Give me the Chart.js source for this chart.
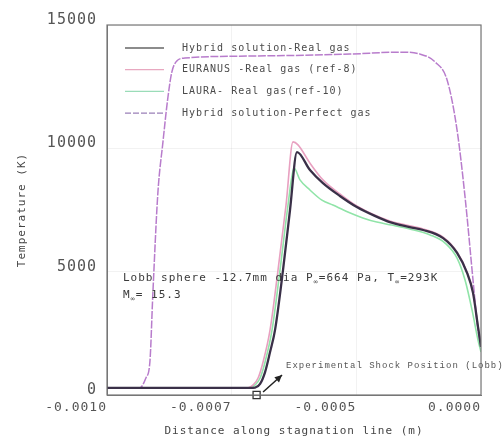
<!DOCTYPE html>
<html>
<head>
<meta charset="utf-8">
<script src="https://cdn.jsdelivr.net/npm/chart.js@4.4.1/dist/chart.umd.min.js"></script>
<style>
  html, body { margin: 0; padding: 0; background: #fff; }
  #wrap { width: 502px; height: 442px; }
</style>
</head>
<body>
<div id="wrap"><canvas id="tempChart"></canvas></div>
<script>
// x in metres along stagnation line, y temperature in K
var hybridRealX = [-0.001, -0.000713, -0.000703, -0.000693, -0.000683, -0.000673, -0.000663, -0.000647, -0.000633, -0.000619, -0.000593, -0.000567, -0.000533, -0.000499, -0.000463, -0.000433, -0.000393, -0.000366, -0.000326, -0.000298, -0.000278, -0.000266, -0.000256, -0.00025];
var hybridRealY = [290, 290, 300, 450, 930, 1740, 2640, 5070, 7500, 9850, 9120, 8590, 8070, 7620, 7260, 7010, 6810, 6690, 6360, 5760, 4950, 4140, 2760, 1950];

var euranusX = [-0.001, -0.000717, -0.000707, -0.000697, -0.000687, -0.000673, -0.000657, -0.000641, -0.000627, -0.000617, -0.000593, -0.000567, -0.000533, -0.000499, -0.000433, -0.000366, -0.000326, -0.000298, -0.000278, -0.000266, -0.000256, -0.00025];
var euranusY = [290, 290, 410, 690, 1340, 2640, 5070, 7700, 10260, 10140, 9400, 8720, 8150, 7660, 7050, 6730, 6400, 5800, 4990, 4180, 2800, 1990];

var lauraX = [-0.001, -0.000713, -0.000703, -0.000693, -0.000683, -0.000669, -0.000653, -0.000637, -0.000625, -0.000613, -0.000593, -0.000569, -0.000547, -0.000517, -0.000487, -0.000459, -0.000429, -0.000393, -0.000352, -0.000322, -0.000298, -0.000282, -0.000268, -0.000256, -0.00025];
var lauraY = [290, 290, 410, 690, 1340, 2640, 5070, 7700, 9200, 8720, 8310, 7900, 7700, 7420, 7180, 7010, 6890, 6730, 6490, 6160, 5550, 4660, 3450, 2230, 1740];

var perfectX = [-0.001, -0.000934, -0.000922, -0.000914, -0.000908, -0.000898, -0.000888, -0.000878, -0.00087, -0.00086, -0.000844, -0.000713, -0.000513, -0.000413, -0.000372, -0.000342, -0.000318, -0.000298, -0.000282, -0.000266, -0.000256, -0.00025];
var perfectY = [290, 293, 690, 1340, 4130, 8190, 10220, 12040, 13090, 13540, 13660, 13740, 13820, 13900, 13820, 13500, 12770, 10740, 8030, 4660, 2630, 1950];

var seriesNames = ['Hybrid solution-Real gas', 'EURANUS -Real gas (ref-8)', 'LAURA- Real gas(ref-10)', 'Hybrid solution-Perfect gas'];
var seriesColors = ['#3a3048', '#e8a0c0', '#90e4a8', '#b87ccc'];
var legendColors = ['#666666', '#e8a8c0', '#9adcb8', '#9a80b8'];

var xTickVals = [-0.001, -0.00075, -0.0005, -0.00025];
var xTickText = ['-0.0010', '-0.0007', '-0.0005', '0.0000'];
var yTickVals = [0, 5000, 10000, 15000];

var shockMarker = [{x: -0.0007, y: 0}];
var arrowFrom = {x: -0.000687, y: 120};
var arrowTo = {x: -0.000649, y: 810};

function makePoints(xs, ys){
  var list = [];
  for(var i=0;i<xs.length;i++){
    list.push({x: xs[i], y: ys[i]});
  }
  return list;
}

// canvas letter spacing, the original text is spread out
var spacingPlugin = {
  id: 'spacing',
  beforeUpdate: function(chart){ chart.ctx.letterSpacing = '1px'; },
  beforeDraw: function(chart){ chart.ctx.letterSpacing = '1px'; }
};

// box frame, legend inside the plot, notes and arrow
var decorPlugin = {
  id: 'decor',
  afterDatasetsDraw: function(chart){
    var ctx = chart.ctx;
    var a = chart.chartArea;
    var xs = chart.scales.x, ys = chart.scales.y;
    ctx.save();
    ctx.strokeStyle = '#777';
    ctx.lineWidth = 1.2;
    ctx.strokeRect(a.left, a.top, a.right - a.left, a.bottom - a.top);

    // legend
    ctx.font = '10px "DejaVu Sans Mono"';
    ctx.fillStyle = '#4a4a4a';
    ctx.textBaseline = 'middle';
    for(var i=0;i<seriesNames.length;i++){
      var ly = 48 + i * 21.7;
      ctx.beginPath();
      ctx.strokeStyle = legendColors[i];
      ctx.lineWidth = 1.3;
      if(i == 3) ctx.setLineDash([6, 2]); else ctx.setLineDash([]);
      ctx.moveTo(125, ly);
      ctx.lineTo(164, ly);
      ctx.stroke();
      ctx.fillText(seriesNames[i], 182, ly);
    }
    ctx.setLineDash([]);

    // conditions note
    ctx.fillStyle = '#3a3a3a';
    var tx = 123, ty = 278;
    var parts = [['Lobb sphere -12.7mm dia P', 0], ['\u221e', 1], ['=664 Pa, T', 0], ['\u221e', 1], ['=293K', 0]];
    for(var j=0;j<parts.length;j++){
      if(parts[j][1]){
        ctx.font = '7px "DejaVu Sans Mono"';
        ctx.fillText(parts[j][0], tx, ty + 4);
      }else{
        ctx.font = '11px "DejaVu Sans Mono"';
        ctx.fillText(parts[j][0], tx, ty);
      }
      tx += ctx.measureText(parts[j][0]).width;
    }
    tx = 123; ty = 295;
    ctx.font = '11px "DejaVu Sans Mono"';
    ctx.fillText('M', tx, ty);
    tx += ctx.measureText('M').width;
    ctx.font = '7px "DejaVu Sans Mono"';
    ctx.fillText('\u221e', tx, ty + 4);
    tx += ctx.measureText('\u221e').width;
    ctx.font = '11px "DejaVu Sans Mono"';
    ctx.fillText('= 15.3', tx, ty);

    // experimental shock label + arrow
    ctx.font = '9px "Liberation Mono"';
    ctx.fillStyle = '#555';
    ctx.fillText('Experimental Shock Position (Lobb)', 286, 366);
    var x0 = xs.getPixelForValue(arrowFrom.x), y0 = ys.getPixelForValue(arrowFrom.y);
    var x1 = xs.getPixelForValue(arrowTo.x), y1 = ys.getPixelForValue(arrowTo.y);
    ctx.strokeStyle = '#222';
    ctx.fillStyle = '#222';
    ctx.lineWidth = 1.5;
    ctx.beginPath();
    ctx.moveTo(x0, y0);
    ctx.lineTo(x1, y1);
    ctx.stroke();
    var ang = Math.atan2(y1 - y0, x1 - x0);
    ctx.beginPath();
    ctx.moveTo(x1, y1);
    ctx.lineTo(x1 - 8 * Math.cos(ang - 0.45), y1 - 8 * Math.sin(ang - 0.45));
    ctx.lineTo(x1 - 8 * Math.cos(ang + 0.45), y1 - 8 * Math.sin(ang + 0.45));
    ctx.closePath();
    ctx.fill();
    ctx.restore();
  }
};

var datasets = [
  {label: seriesNames[0], data: makePoints(hybridRealX, hybridRealY), borderColor: seriesColors[0], borderWidth: 2.3},
  {label: seriesNames[1], data: makePoints(euranusX, euranusY), borderColor: seriesColors[1], borderWidth: 1.6},
  {label: seriesNames[2], data: makePoints(lauraX, lauraY), borderColor: seriesColors[2], borderWidth: 1.6},
  {label: seriesNames[3], data: makePoints(perfectX, perfectY), borderColor: seriesColors[3], borderWidth: 1.5, borderDash: [8, 1.5]},
  {label: 'marker', data: shockMarker, showLine: false, pointStyle: 'rect', pointRadius: 5,
   borderColor: '#333', backgroundColor: 'rgba(0,0,0,0)', pointBorderWidth: 1.3, clip: false}
];
for(var k=0;k<4;k++){
  datasets[k].pointRadius = 0;
  datasets[k].fill = false;
  datasets[k].tension = 0.3;
  datasets[k].cubicInterpolationMode = 'monotone';
}

var ctx = document.getElementById('tempChart');
window.tempChart = new Chart(ctx, {
  type: 'scatter',
  data: {datasets: datasets},
  options: {
    responsive: true,
    maintainAspectRatio: false,
    animation: false,
    showLine: true,
    layout: {padding: {top: 25, right: 21, bottom: 0, left: 0}},
    plugins: {legend: {display: false}, tooltip: {enabled: false}},
    scales: {
      x: {
        type: 'linear',
        min: -0.001,
        max: -0.00025,
        afterBuildTicks: function(scale){ scale.ticks = xTickVals.map(function(v){ return {value: v}; }); },
        afterFit: function(scale){ scale.height = 47; },
        grid: {color: 'rgba(0,0,0,0.05)', drawTicks: false},
        border: {color: '#777'},
        ticks: {
          align: 'end',
          padding: 5,
          color: '#555',
          font: {family: 'DejaVu Sans Mono', size: 13},
          maxRotation: 0,
          callback: function(value, index){ return xTickText[index]; }
        },
        title: {display: true, text: 'Distance along stagnation line (m)', color: '#444',
                font: {family: 'DejaVu Sans Mono', size: 11}, padding: {top: 5, bottom: 4}}
      },
      y: {
        type: 'linear',
        min: 0,
        max: 15000,
        afterBuildTicks: function(scale){ scale.ticks = yTickVals.map(function(v){ return {value: v}; }); },
        afterFit: function(scale){ scale.width = 107; },
        grid: {color: 'rgba(0,0,0,0.05)', drawTicks: false},
        border: {color: '#777'},
        ticks: {
          padding: 10,
          labelOffset: -5,
          color: '#555',
          font: {family: 'DejaVu Sans Mono', size: 15},
          callback: function(value){ return String(value); }
        },
        title: {display: true, text: 'Temperature (K)', color: '#444',
                font: {family: 'DejaVu Sans Mono', size: 11}, padding: {top: 16, bottom: 4}}
      }
    }
  },
  plugins: [spacingPlugin, decorPlugin]
});
</script>
</body>
</html>
